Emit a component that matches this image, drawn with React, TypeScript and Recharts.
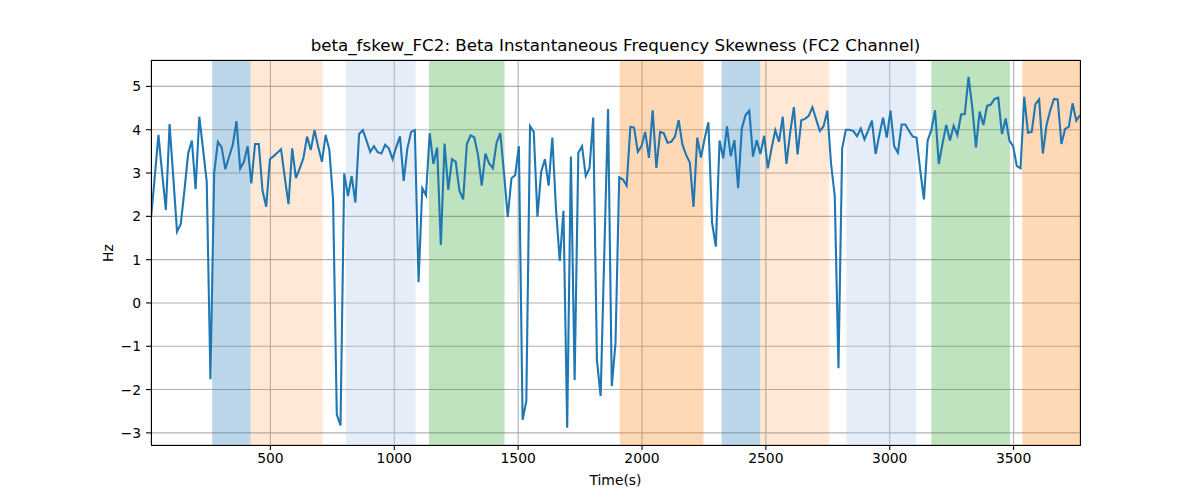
import { CartesianGrid, Line, LineChart, ReferenceArea, XAxis, YAxis } from "recharts";

const WIDTH = 1200;
const HEIGHT = 500;
const FONT = "'DejaVu Sans', sans-serif";

// skewness samples, one every 15 s starting at t = 18 s
const SAMPLE_START = 18;
const SAMPLE_STEP = 15;
const SKEW_HZ = [
  1.95, 2.9, 3.88, 3.0, 2.15, 4.13, 2.9, 1.65, 1.82, 2.6,
  3.45, 3.75, 2.63, 4.3, 3.55, 2.8, -1.76, 3.0, 3.72, 3.6,
  3.09, 3.37, 3.65, 4.2, 3.1, 3.26, 3.62, 2.76, 3.67, 3.67,
  2.6, 2.22, 3.32, 3.39, 3.47, 3.55, 2.9, 2.28, 3.57, 2.88,
  3.1, 3.34, 3.84, 3.53, 3.99, 3.6, 3.26, 3.88, 3.53, 2.38,
  -2.58, -2.83, 2.99, 2.47, 2.93, 2.32, 3.9, 3.99, 3.75, 3.49,
  3.62, 3.48, 3.45, 3.65, 3.57, 3.32, 3.6, 3.85, 2.82, 3.57,
  3.95, 3.99, 0.48, 2.65, 2.49, 3.92, 3.21, 3.59, 1.34, 3.68,
  2.61, 3.32, 3.26, 2.59, 2.39, 3.67, 3.87, 3.82, 3.42, 2.71,
  3.45, 3.22, 3.11, 3.7, 3.92, 3.0, 1.98, 2.88, 2.95, 3.62,
  -2.7, -2.27, 4.08, 3.95, 1.99, 3.03, 3.32, 2.71, 3.82, 2.15,
  0.97, 2.13, -2.88, 3.38, -1.78, 3.47, 3.62, 2.93, 3.11, 4.28,
  -1.32, -2.15, 1.2, 4.48, -1.92, -0.93, 2.9, 2.85, 2.71, 4.07,
  4.05, 3.49, 3.62, 3.95, 3.35, 4.45, 3.12, 3.95, 3.92, 3.7,
  3.72, 3.84, 4.22, 3.66, 3.42, 3.24, 2.22, 3.82, 3.36, 3.8,
  4.17, 1.84, 1.3, 3.75, 3.34, 4.08, 3.39, 3.76, 2.65, 4.03,
  4.34, 4.44, 3.38, 3.76, 3.44, 3.86, 3.11, 3.57, 3.99, 3.72,
  4.3, 3.21, 3.93, 4.52, 3.43, 4.22, 4.25, 4.32, 4.52, 4.24,
  3.97, 4.08, 4.44, 3.22, 2.47, -1.51, 3.57, 4.0, 4.0, 3.97,
  3.85, 4.03, 3.78, 3.98, 4.21, 3.44, 3.88, 4.28, 3.82, 4.44,
  3.62, 3.47, 4.12, 4.12, 3.97, 3.84, 3.82, 3.07, 2.39, 3.75,
  3.99, 4.45, 3.21, 3.68, 4.11, 3.75, 4.09, 3.88, 4.35, 4.36,
  5.22, 4.53, 3.59, 4.42, 4.11, 4.55, 4.58, 4.71, 4.74, 3.9,
  4.26, 3.75, 3.62, 3.16, 3.11, 4.76, 3.93, 3.95, 4.59, 4.7,
  3.45, 4.11, 4.45, 4.71, 4.7, 3.67, 4.02, 4.07, 4.61, 4.21,
  4.34,
];

// shaded spans (seconds)
const BAND_STARTS = [265, 420, 805, 1140, 1910, 2321, 2477, 2825, 3168, 3535];
const BAND_ENDS = [420, 711, 1086, 1445, 2248, 2477, 2756, 3106, 3485, 3768];
const BAND_KINDS = ["blue", "peach", "sky", "green", "orange", "blue", "peach", "sky", "green", "orange"];

const X_TICKS = [500, 1000, 1500, 2000, 2500, 3000, 3500];
const Y_TICKS = [-3, -2, -1, 0, 1, 2, 3, 4, 5];

const BAND_STYLE: Record<string, { fill: string; opacity: number }> = {
  blue: { fill: "#1f77b4", opacity: 0.3 },
  peach: { fill: "#ff7f0e", opacity: 0.17 },
  sky: { fill: "#aec7e8", opacity: 0.32 },
  green: { fill: "#2ca02c", opacity: 0.3 },
  orange: { fill: "#ff7f0e", opacity: 0.3 },
};

const data = SKEW_HZ.map((hz, i) => ({ t: SAMPLE_START + i * SAMPLE_STEP, hz }));
const lastT = data[data.length - 1].t;

const PLOT = { left: 151, top: 60, right: 1080, bottom: 445 };

const tickStyle = { fill: "#000", fontSize: 13.9, fontFamily: FONT };
const minusSign = (v: number) => String(v).replace("-", "\u2212");

export default function App() {
  return (
    <div
      style={{
        position: "fixed",
        left: 0,
        top: 0,
        width: WIDTH,
        height: HEIGHT,
        background: "#fff",
        fontFamily: FONT,
      }}
    >
      <div
        style={{
          position: "absolute",
          top: 35,
          left: PLOT.left,
          width: PLOT.right - PLOT.left,
          textAlign: "center",
          fontSize: 16.7,
          lineHeight: "20px",
        }}
      >
        beta_fskew_FC2: Beta Instantaneous Frequency Skewness (FC2 Channel)
      </div>

      <LineChart
        width={WIDTH}
        height={HEIGHT}
        data={data}
        margin={{ top: PLOT.top, right: WIDTH - PLOT.right, bottom: 10, left: 0 }}
      >
        <CartesianGrid stroke="#b0b0b0" strokeWidth={1.1} />
        <XAxis
          dataKey="t"
          type="number"
          domain={[SAMPLE_START, lastT]}
          ticks={X_TICKS}
          height={HEIGHT - PLOT.bottom - 10}
          axisLine={false}
          tickLine={{ stroke: "#000", strokeWidth: 1.1 }}
          tickSize={5}
          tickMargin={3}
          tick={tickStyle}
          allowDataOverflow
        />
        <YAxis
          type="number"
          domain={[-3.28, 5.61]}
          ticks={Y_TICKS}
          width={PLOT.left}
          axisLine={false}
          tickLine={{ stroke: "#000", strokeWidth: 1.1 }}
          tickSize={5}
          tickMargin={5}
          tick={tickStyle}
          tickFormatter={minusSign}
          allowDataOverflow
        />
        {BAND_STARTS.map((x1, i) => (
          <ReferenceArea
            key={i}
            x1={x1}
            x2={BAND_ENDS[i]}
            fill={BAND_STYLE[BAND_KINDS[i]].fill}
            fillOpacity={BAND_STYLE[BAND_KINDS[i]].opacity}
            stroke="none"
            ifOverflow="hidden"
          />
        ))}
        <Line
          dataKey="hz"
          type="linear"
          stroke="#1f77b4"
          strokeWidth={2.1}
          dot={false}
          activeDot={false}
          isAnimationActive={false}
        />
      </LineChart>

      {/* axes frame */}
      <div
        style={{
          position: "absolute",
          left: PLOT.left - 0.5,
          top: PLOT.top - 0.5,
          width: PLOT.right - PLOT.left + 1,
          height: PLOT.bottom - PLOT.top + 1,
          border: "1.1px solid #000",
          boxSizing: "border-box",
          pointerEvents: "none",
        }}
      />

      <div
        style={{
          position: "absolute",
          top: 472,
          left: PLOT.left,
          width: PLOT.right - PLOT.left,
          textAlign: "center",
          fontSize: 13.9,
          lineHeight: "17px",
        }}
      >
        Time(s)
      </div>
      <div
        style={{
          position: "absolute",
          left: 108,
          top: 253,
          fontSize: 13.9,
          lineHeight: "17px",
          transform: "translate(-50%, -50%) rotate(-90deg)",
        }}
      >
        Hz
      </div>
    </div>
  );
}
